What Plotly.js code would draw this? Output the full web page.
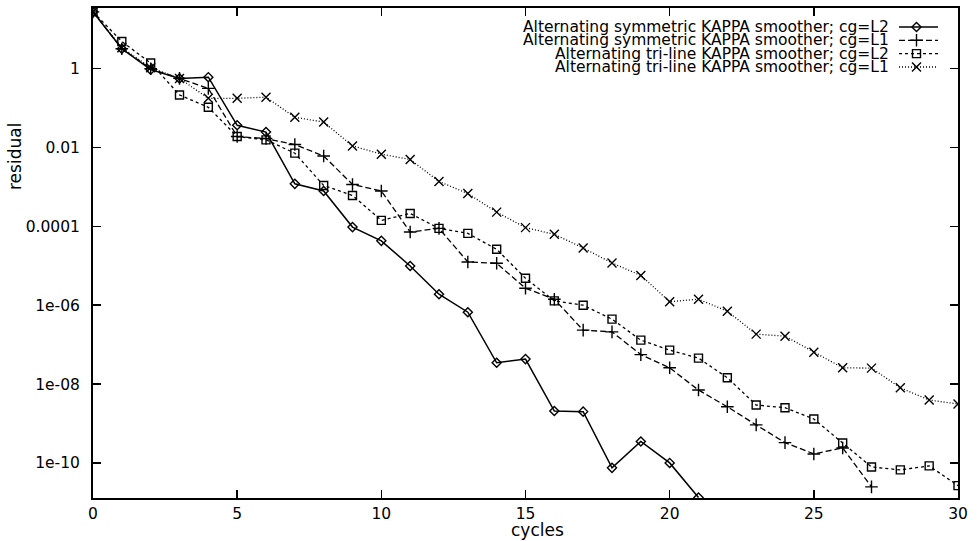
<!DOCTYPE html>
<html>
<head>
<meta charset="utf-8">
<script src="https://cdn.plot.ly/plotly-3.0.1.min.js"></script>
<style>
  html, body { margin: 0; padding: 0; background: #fff; }
  #chart { width: 979px; height: 541px; }
</style>
</head>
<body>
<div id="chart"></div>
<script>
// ---- data ----
const cyclesSymL2 = [0,1,2,3,4,5,6,7,8,9,10,11,12,13,14,15,16,17,18,19,20,21];
const residSymL2 = [27.7, 3.21, 0.944, 0.568, 0.61, 0.0367, 0.0247, 1.2e-3, 7.9e-4, 9.6e-5,
  4.3e-5, 9.9e-6, 1.9e-6, 6.65e-7, 3.47e-8, 4.3e-8, 2.07e-9, 2.0e-9, 7.5e-11, 3.5e-10,
  1.0e-10, 1.32e-11];

const cyclesSymL1 = [0,1,2,3,4,5,6,7,8,9,10,11,12,13,14,15,16,17,18,19,20,21,22,23,24,25,26,27];
const residSymL1 = [27.7, 3.21, 1.0, 0.568, 0.317, 0.019, 0.0169, 0.0119, 6.1e-3, 1.16e-3,
  7.9e-4, 7.2e-5, 8.9e-5, 1.25e-5, 1.16e-5, 2.7e-6, 1.42e-6, 2.33e-7, 2.11e-7, 5.6e-8,
  2.59e-8, 7.05e-9, 2.66e-9, 9.2e-10, 3.27e-10, 1.69e-10, 2.4e-10, 2.47e-11];

const cyclesTriL2 = [0,1,2,3,4,5,6,7,8,9,10,11,12,13,14,15,16,17,18,19,20,21,22,23,24,25,26,27,28,29,30];
const residTriL2 = [27.7, 4.91, 1.39, 0.216, 0.105, 0.019, 0.0157, 7.2e-3, 1.09e-3, 6.1e-4,
  1.42e-4, 2.13e-4, 8.9e-5, 6.65e-5, 2.62e-5, 4.83e-6, 1.29e-6, 1.0e-6, 4.43e-7, 1.3e-7,
  7.26e-8, 4.55e-8, 1.45e-8, 2.94e-9, 2.51e-9, 1.3e-9, 3.2e-10, 7.9e-11, 6.65e-11, 8.4e-11,
  2.66e-11];

const cyclesTriL1 = [0,1,2,3,4,5,6,7,8,9,10,11,12,13,14,15,16,17,18,19,20,21,22,23,24,25,26,27,28,29,30];
const residTriL1 = [27.7, 3.4, 1.06, 0.568, 0.177, 0.177, 0.19, 0.0585, 0.0443, 0.011,
  6.8e-3, 4.97e-3, 1.38e-3, 6.8e-4, 2.3e-4, 9.3e-5, 6.3e-5, 2.83e-5, 1.18e-5, 5.7e-6,
  1.23e-6, 1.42e-6, 7.05e-7, 1.85e-7, 1.64e-7, 6.45e-8, 2.59e-8, 2.54e-8, 8.05e-9, 3.94e-9,
  3.12e-9];

const seriesNames = [
  "Alternating symmetric KAPPA smoother; cg=L2",
  "Alternating symmetric KAPPA smoother; cg=L1",
  "Alternating tri-line KAPPA smoother; cg=L2",
  "Alternating tri-line KAPPA smoother; cg=L1"
];

const xTickVals = [0,5,10,15,20,25,30];
const yTickVals = [1, 0.01, 0.0001, 1e-6, 1e-8, 1e-10];
const yTickText = ["1", "0.01", "0.0001", "1e-06", "1e-08", "1e-10"];

// ---- styles ----
const W = 979, H = 541;
const M = {l: 93, r: 21, t: 8, b: 43};
const FONT = "DejaVu Sans, Liberation Sans, Arial, sans-serif";

const styles = [
  {dash: "solid",      symbol: "diamond-open", size: 7, lw: 1.5},
  {dash: "6px,3px",    symbol: "cross-thin",   size: 9, lw: 1.3},
  {dash: "3px,3px",    symbol: "square-open",  size: 8, lw: 1.3},
  {dash: "1px,2px",    symbol: "x-thin",       size: 9, lw: 1.3}
];
const xs = [cyclesSymL2, cyclesSymL1, cyclesTriL2, cyclesTriL1];
const ys = [residSymL2, residSymL1, residTriL2, residTriL1];

const traces = [];
for (let i = 0; i < 4; i++) {
  traces.push({
    type: "scatter", mode: "lines+markers",
    x: xs[i], y: ys[i], name: seriesNames[i],
    line: {color: "#000", width: styles[i].lw, dash: styles[i].dash},
    marker: {symbol: styles[i].symbol, size: styles[i].size, color: "#000",
             line: {color: "#000", width: 1.4}},
    showlegend: false, hoverinfo: "x+y"
  });
}

// ---- custom gnuplot-style key (text right-aligned, sample to its right) ----
const keyRowsPx = [27, 40.3, 53.6, 67];
const keyTextRightPx = 891;
const keySample = [899, 938];
const annotations = [];
for (let i = 0; i < 4; i++) {
  annotations.push({
    xref: "paper", yref: "paper",
    x: (keyTextRightPx - M.l) / (W - M.l - M.r),
    y: 1 - (keyRowsPx[i] - M.t) / (H - M.t - M.b),
    xanchor: "right", yanchor: "middle",
    text: seriesNames[i], showarrow: false,
    font: {family: FONT, size: 15.5, color: "#000"}
  });
  traces.push({
    type: "scatter", mode: "lines", xaxis: "x2", yaxis: "y2",
    x: keySample, y: [keyRowsPx[i], keyRowsPx[i]],
    line: {color: "#000", width: styles[i].lw, dash: styles[i].dash},
    showlegend: false, hoverinfo: "skip"
  });
  traces.push({
    type: "scatter", mode: "markers", xaxis: "x2", yaxis: "y2",
    x: [(keySample[0] + keySample[1]) / 2 - 2], y: [keyRowsPx[i]],
    marker: {symbol: styles[i].symbol, size: styles[i].size, color: "#000",
             line: {color: "#000", width: 1.4}},
    showlegend: false, hoverinfo: "skip"
  });
}

// axis titles placed like gnuplot
annotations.push({
  xref: "paper", yref: "paper",
  x: (537 - M.l) / (W - M.l - M.r), y: 1 - (530 - M.t) / (H - M.t - M.b),
  xanchor: "center", yanchor: "middle", showarrow: false,
  text: "cycles", font: {family: FONT, size: 17, color: "#000"}
});
annotations.push({
  xref: "paper", yref: "paper",
  x: (15 - M.l) / (W - M.l - M.r), y: 1 - (157 - M.t) / (H - M.t - M.b),
  xanchor: "center", yanchor: "middle", showarrow: false, textangle: -90,
  text: "residual", font: {family: FONT, size: 17, color: "#000"}
});

const layout = {
  width: W, height: H,
  margin: M,
  paper_bgcolor: "#fff", plot_bgcolor: "#fff",
  showlegend: false,
  font: {family: FONT, size: 15.5, color: "#000"},
  xaxis: {
    range: [0, 30], tickvals: xTickVals, ticks: "inside", ticklen: 8, tickwidth: 1.5,
    tickcolor: "#000", showline: true, linecolor: "#000", linewidth: 2, mirror: "ticks",
    showgrid: false, zeroline: false, ticklabelstandoff: 0,
    tickfont: {family: FONT, size: 15.5, color: "#000"}
  },
  yaxis: {
    type: "log", range: [-10.89, 1.54], tickvals: yTickVals, ticktext: yTickText,
    ticks: "inside", ticklen: 8, tickwidth: 1.5, tickcolor: "#000",
    showline: true, linecolor: "#000", linewidth: 2, mirror: "ticks",
    showgrid: false, zeroline: false, ticklabelstandoff: 8,
    tickfont: {family: FONT, size: 15.5, color: "#000"}
  },
  xaxis2: {overlaying: "x", range: [M.l, W - M.r], visible: false, fixedrange: true},
  yaxis2: {overlaying: "y", range: [H - M.b, M.t], visible: false, fixedrange: true},
  annotations: annotations
};

Plotly.newPlot("chart", traces, layout, {displayModeBar: false, staticPlot: true});
</script>
</body>
</html>
